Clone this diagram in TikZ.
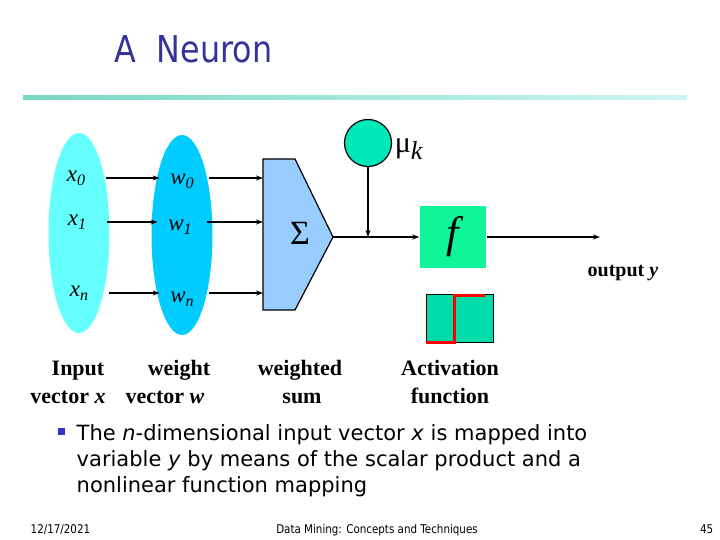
\documentclass[tikz,border=0pt]{standalone}
\usepackage{fontspec}
\setmainfont{Liberation Serif}
\newfontfamily\slidefont{DejaVu Sans}[FakeStretch=0.86]
\newfontfamily\bodyfont{DejaVu Sans}
\usepackage{tikz}
\usetikzlibrary{arrows.meta, positioning, shapes.geometric}

\begin{document}
\begin{tikzpicture}[x=1pt, y=-1pt, >={Stealth[length=7pt,width=5pt]}, line width=1.4pt,
    every node/.style={align=center, inner sep=0pt},
    vecell/.style={ellipse, minimum width=61pt, minimum height=200pt},
    lbl/.style={font=\fontsize{23}{24}\selectfont\itshape},
    capt/.style={font=\fontsize{22}{24}\selectfont\bfseries, anchor=base}]
      \definecolor{xbg}{RGB}{102,255,255} \definecolor{wbg}{RGB}{0,204,255}
      \definecolor{sumbg}{RGB}{153,204,255} \definecolor{mubg}{RGB}{0,232,185}
      \definecolor{fbg}{RGB}{16,245,154} \definecolor{stepbg}{RGB}{0,221,170}
      \definecolor{titlecol}{RGB}{51,51,153} \definecolor{bulletcol}{RGB}{51,51,204}
      \useasboundingbox (0,0) rectangle (720,540);
      % title and rule
      \node[anchor=base west, font=\slidefont\fontsize{37}{40}\selectfont, text=titlecol] (title) at (114,63) {A\ \ Neuron};
      \shade[left color={rgb,255:red,120;green,215;blue,195}, right color={rgb,255:red,205;green,246;blue,240}] (23,96) rectangle (687,100);
      % vectors
      \node[vecell, fill=xbg] (xvec) at (79,233) {};
      \node[vecell, fill=wbg] (wvec) at (182,235) {};
      \node[lbl] (x0) at (76,178) {x\raisebox{-0.35ex}{\fontsize{16}{16}\selectfont 0}};
      \node[lbl] (x1) at (77,222) {x\raisebox{-0.35ex}{\fontsize{16}{16}\selectfont 1}};
      \node[lbl] (xn) at (79,293) {x\raisebox{-0.35ex}{\fontsize{16}{16}\selectfont n}};
      \node[lbl] (w0) at (182,181) {w\raisebox{-0.35ex}{\fontsize{16}{16}\selectfont 0}};
      \node[lbl] (w1) at (180,227) {w\raisebox{-0.35ex}{\fontsize{16}{16}\selectfont 1}};
      \node[lbl] (wn) at (182,299) {w\raisebox{-0.35ex}{\fontsize{16}{16}\selectfont n}};
      % weighted sum
      \coordinate (sumL) at (263,237);
      \coordinate (tip) at (333,237);
      \draw[fill=sumbg, line width=1.2pt] (263,159) -- (295,159) -- (tip) -- (295,310) -- (263,310) -- cycle;
      \node[font=\fontsize{34}{36}\selectfont] (sigma) at (300,233) {Σ};
      % bias
      \node[circle, draw, fill=mubg, minimum size=47pt, line width=1.2pt] (mu) at (368,143) {};
      \node[anchor=west, font=\fontsize{30}{32}\selectfont] (mulbl) at ([xshift=2pt, yshift=-6pt]mu.east) {μ\raisebox{-0.5ex}{\fontsize{26}{26}\selectfont\itshape k}};
      % activation
      \node[fill=fbg, minimum width=66pt, minimum height=62pt] (act) at (453,237) {};
      \node[font=\fontsize{44}{46}\selectfont\itshape] (flbl) at (act) {f};
      \coordinate (yout) at (600,237);
      \node[font=\fontsize{20}{22}\selectfont\bfseries] (outlbl) at (623,273) {output \textit{y}};
      \node[draw, fill=stepbg, line width=0.8pt, minimum width=67pt, minimum height=48pt] (stepfn) at (459.5,318) {};
      \draw[red, line width=3pt] (stepfn.south west) -- ++(29,0) -- ++(0,-47) -- ++(30,0);
      % connectors
      \foreach \i in {0,1,n}{
        \draw[->, shorten <=20pt, shorten >=10pt] (x\i.east) -- (x\i.east -| w\i.west);
        \draw[->, shorten <=15pt] (x\i.east -| w\i.east) -- (x\i.east -| sumL);
      }
      \draw[->] (tip) -- (act.west);
      \draw[->] (mu.south) -- (mu |- tip);
      \draw[->] (act.east) -- (yout);
      % captions
      \node[capt] (c1a) at (78,375) {Input};
      \node[capt] (c1b) at (68,403) {vector \textit{x}};
      \node[capt] (c2a) at (179,375) {weight};
      \node[capt] (c2b) at (165,403) {vector \textit{w}};
      \node[capt] (c3a) at (300,375) {weighted};
      \node[capt] (c3b) at (302,403) {sum};
      \node[capt] (c4a) at (450,375) {Activation};
      \node[capt] (c4b) at (450,403) {function};
      % bullet text
      \fill[bulletcol] (58,428) rectangle (65,435);
      \node[anchor=base west, align=left, font=\bodyfont\fontsize{21}{26}\selectfont] (note) at (76,492)
        {The \textit{n}-dimensional input vector \textit{x} is mapped into\\
         variable \textit{y}\ by means of the scalar product and a\\
         nonlinear function mapping};
      % footer
      \node[anchor=base west, font=\slidefont\fontsize{12}{14}\selectfont] (date) at (30,533) {12/17/2021};
      \node[anchor=base, font=\slidefont\fontsize{12}{14}\selectfont] (src) at (377,533) {Data Mining: Concepts and Techniques};
      \node[anchor=base east, font=\slidefont\fontsize{12}{14}\selectfont] (pg) at (714,533) {45};
    \end{tikzpicture}
\end{document}
